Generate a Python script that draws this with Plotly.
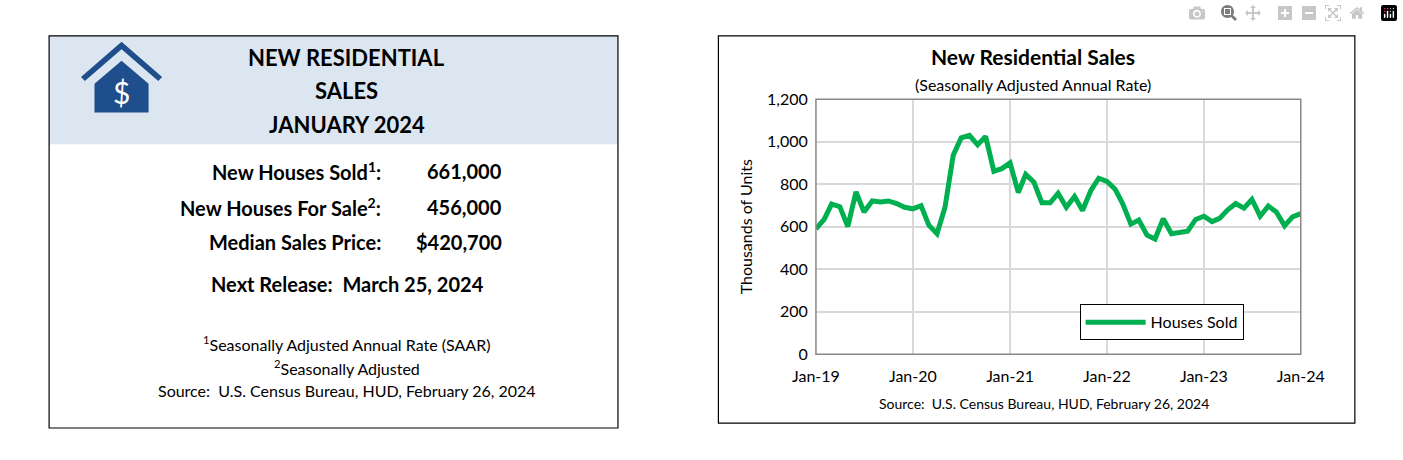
import plotly.graph_objects as go

months = ["2019-%02d" % m for m in range(1, 13)] + ["2020-%02d" % m for m in range(1, 13)] + \
         ["2021-%02d" % m for m in range(1, 13)] + ["2022-%02d" % m for m in range(1, 13)] + \
         ["2023-%02d" % m for m in range(1, 13)] + ["2024-01"]
houses_sold = [590, 634, 706, 694, 601, 764, 669, 721, 716, 721, 709, 691,
               684, 699, 607, 567, 691, 936, 1018, 1030, 985, 1025, 861, 873,
               900, 761, 846, 809, 712, 712, 757, 691, 742, 676, 769, 828,
               813, 776, 709, 612, 631, 560, 542, 637, 567, 575, 579, 634,
               649, 624, 639, 679, 709, 687, 728, 649, 697, 669, 604, 646,
               661]
x_ticks = ["2019-01", "2020-01", "2021-01", "2022-01", "2023-01", "2024-01"]
x_tick_labels = ["Jan-19", "Jan-20", "Jan-21", "Jan-22", "Jan-23", "Jan-24"]
stat_labels = ["New Houses Sold<sup>1</sup>:", "New Houses For Sale<sup>2</sup>:", "Median Sales Price:"]
stat_values = ["661,000", "456,000", "$420,700"]

W, H = 1403, 460
FONT = "Lato"
GREEN = "#00b050"
NAVY = "#1f4e8c"

def px(x):
    return x / W

def py(y):
    return 1 - y / H

fig = go.Figure()
fig.add_trace(go.Scatter(x=months, y=houses_sold, mode="lines", name="Houses Sold",
                         line=dict(color=GREEN, width=5)))

shapes = []
shapes.append(dict(type="rect", xref="paper", yref="paper", x0=px(26), x1=px(615), y0=py(140), y1=py(27),
                   fillcolor="#dce6f1", line=dict(width=0), layer="below"))
shapes.append(dict(type="rect", xref="paper", yref="paper", x0=px(26), x1=px(615), y0=py(436), y1=py(27),
                   line=dict(color="black", width=1.2)))
shapes.append(dict(type="rect", xref="paper", yref="paper", x0=px(719), x1=px(1378), y0=py(431), y1=py(27),
                   line=dict(color="black", width=1.2)))
shapes.append(dict(type="rect", xref="paper", yref="paper", x0=px(820), x1=px(1322), y0=py(359), y1=py(93),
                   line=dict(color="#888888", width=1.5)))
def path(pts):
    return "M " + " L ".join("%f,%f" % (px(a), py(b)) for a, b in pts) + " Z"
shapes.append(dict(type="path", xref="paper", yref="paper",
                   path=path([(101, 33), (143, 70), (139, 74), (101, 41), (63, 74), (59, 70)]),
                   fillcolor=NAVY, line=dict(width=0)))
shapes.append(dict(type="path", xref="paper", yref="paper",
                   path=path([(101, 53), (129, 77), (129, 107), (73, 107), (73, 77)]),
                   fillcolor=NAVY, line=dict(width=0)))
fig.update_layout(shapes=shapes)

ann = []
def A(x, y, text, size, bold=False, xanchor="center", color="black"):
    t = "<b>%s</b>" % text if bold else text
    ann.append(dict(xref="paper", yref="paper", x=px(x), y=py(y), text=t, showarrow=False,
                    xanchor=xanchor, yanchor="middle", font=dict(family=FONT, size=size, color=color)))

A(101, 86, "$", 30, False, color="white")
A(334, 50, "NEW RESIDENTIAL", 22, True)
A(334, 84, "SALES", 22, True)
A(334, 119, "JANUARY 2024", 22, True)
for i, (lab, val) in enumerate(zip(stat_labels, stat_values)):
    yy = 168 + 37 * i
    A(372, yy, lab, 20, True, xanchor="right")
    A(497, yy, val, 20, True, xanchor="right")
A(335, 286, "Next Release:  March 25, 2024", 20, True)
A(334, 348, "<sup>1</sup>Seasonally Adjusted Annual Rate (SAAR)", 16)
A(334, 373, "<sup>2</sup>Seasonally Adjusted", 16)
A(334, 397, "Source:  U.S. Census Bureau, HUD, February 26, 2024", 16)

A(1045, 48, "New Residential Sales", 21, True)
A(1045, 78, "(Seasonally Adjusted Annual Rate)", 16)
A(1056, 410, "Source:  U.S. Census Bureau, HUD, February 26, 2024", 14)
fig.update_layout(annotations=ann)

fig.update_layout(
    width=W, height=H, margin=dict(l=0, r=0, t=0, b=0),
    paper_bgcolor="white", plot_bgcolor="white",
    font=dict(family=FONT, size=16, color="black"),
    xaxis=dict(domain=[px(820), px(1322)], range=["2019-01-01", "2024-01-01"],
               tickvals=x_ticks, ticktext=x_tick_labels, showgrid=True, gridcolor="#d9d9d9",
               gridwidth=1.5, zeroline=False, ticks="outside", ticklen=8, tickcolor="rgba(0,0,0,0)",
               tickfont=dict(size=16)),
    yaxis=dict(domain=[py(359), py(93)], range=[0, 1200], dtick=200, tickformat=",",
               showgrid=True, gridcolor="#d9d9d9", gridwidth=1.5, zeroline=False,
               ticks="outside", ticklen=4, tickcolor="rgba(0,0,0,0)",
               title=dict(text="Thousands of Units", font=dict(size=16), standoff=10),
               tickfont=dict(size=16)),
    showlegend=True,
    legend=dict(x=px(1093), y=py(307), xanchor="left", yanchor="top",
                bordercolor="black", borderwidth=1, bgcolor="white",
                font=dict(size=16), entrywidth=175, itemwidth=60),
)

fig.write_html("out.html")
with open("out.html", encoding="utf-8") as f:
    html = f.read()
html = html.replace("<head>", "<head><style>html,body{margin:0;padding:0;overflow:hidden}</style>", 1)
with open("out.html", "w", encoding="utf-8") as f:
    f.write(html)
